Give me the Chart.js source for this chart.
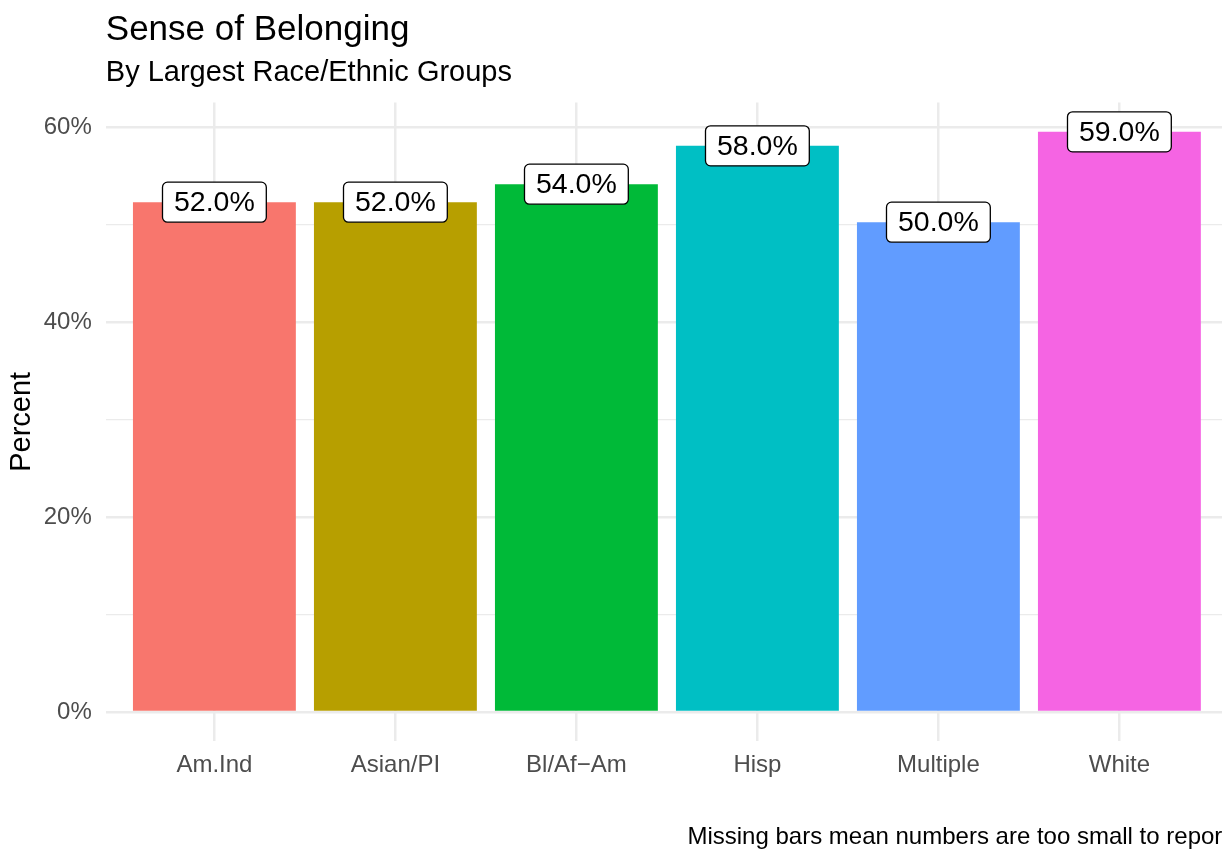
<!DOCTYPE html>
<html>
<head>
<meta charset="utf-8">
<script src="https://cdn.jsdelivr.net/npm/chart.js@4.4.1/dist/chart.umd.min.js"></script>
<style>
  html, body { margin: 0; padding: 0; overflow: hidden; background: #ffffff; width: 1222px; height: 850px; }
  #wrap { width: 1236px; height: 850px; }
</style>
</head>
<body>
<div id="wrap"><canvas id="c" width="1236" height="850"></canvas></div>
<script>
// ---- data ----
const categories = ["Am.Ind", "Asian/PI", "Bl/Af\u2212Am", "Hisp", "Multiple", "White"];
const values = [52.33, 52.33, 54.18, 58.11, 50.28, 59.55];
const valueLabels = ["52.0%", "52.0%", "54.0%", "58.0%", "50.0%", "59.0%"];
const barColors = ["#F8766D", "#B79F00", "#00BA38", "#00BFC4", "#619CFF", "#F564E3"];
const yTicks = [0, 10, 20, 30, 40, 50, 60];
const yTickLabels = { 0: "0%", 20: "20%", 40: "40%", 60: "60%" };

const titleText = "Sense of Belonging";
const subtitleText = "By Largest Race/Ethnic Groups";
const captionText = "Missing bars mean numbers are too small to report";
const yTitle = "Percent";

const FONT = "'Liberation Sans', Arial, Helvetica, sans-serif";
const GRID = "#EBEBEB";

const points = categories.map((c, i) => ({ x: i + 1, y: values[i] }));

const textPlugin = {
  id: "texts",
  afterDraw(chart) {
    const ctx = chart.ctx;
    const area = chart.chartArea;
    ctx.save();
    ctx.fillStyle = "#000000";
    ctx.textAlign = "left";
    ctx.textBaseline = "alphabetic";
    ctx.font = "35px " + FONT;
    ctx.fillText(titleText, area.left, 40);
    ctx.font = "29px " + FONT;
    ctx.fillText(subtitleText, area.left, 81);
    ctx.textAlign = "right";
    ctx.font = "24px " + FONT;
    ctx.fillText(captionText, 1229, 844);
    ctx.restore();
  }
};

const labelPlugin = {
  id: "barLabels",
  afterDatasetsDraw(chart) {
    const ctx = chart.ctx;
    const meta = chart.getDatasetMeta(0);
    ctx.save();
    ctx.font = "28.5px " + FONT;
    meta.data.forEach((el, i) => {
      const txt = valueLabels[i];
      const tw = ctx.measureText(txt).width;
      const w = tw + 23, h = 40;
      const x = el.x - w / 2, y = el.y - h / 2;
      ctx.beginPath();
      ctx.roundRect(x, y, w, h, 5);
      ctx.fillStyle = "#ffffff";
      ctx.fill();
      ctx.lineWidth = 1.3;
      ctx.strokeStyle = "#000000";
      ctx.stroke();
      ctx.fillStyle = "#000000";
      ctx.textAlign = "center";
      ctx.textBaseline = "middle";
      ctx.fillText(txt, el.x, el.y + 1);
    });
    ctx.restore();
  }
};

new Chart(document.getElementById("c"), {
  type: "bar",
  data: {
    datasets: [{
      data: points,
      backgroundColor: barColors,
      borderWidth: 0,
      barPercentage: 0.9,
      categoryPercentage: 1.0
    }]
  },
  options: {
    responsive: false,
    devicePixelRatio: 1,
    animation: false,
    layout: { padding: { top: 102.6, right: 8, bottom: 0, left: 0 } },
    plugins: { legend: { display: false }, tooltip: { enabled: false }, title: { display: false } },
    scales: {
      x: {
        type: "linear",
        offset: false,
        min: 0.4,
        max: 6.6,
        afterBuildTicks(scale) { scale.ticks = categories.map((c, i) => ({ value: i + 1 })); },
        afterFit(scale) { scale.height = 109; },
        ticks: {
          callback: (v) => categories[Math.round(v) - 1],
          color: "#4D4D4D",
          font: { family: FONT, size: 24 },
          padding: 10,
          autoSkip: false,
          maxRotation: 0
        },
        grid: { color: GRID, lineWidth: 2.5, drawTicks: false, offset: false },
        border: { display: false }
      },
      y: {
        min: -2.98,
        max: 62.55,
        afterBuildTicks(scale) { scale.ticks = yTicks.map(v => ({ value: v })); },
        afterFit(scale) { scale.width = 105.8; },
        ticks: {
          callback: (v) => (yTickLabels[v] !== undefined ? yTickLabels[v] : ""),
          color: "#4D4D4D",
          font: { family: FONT, size: 24 },
          padding: 14
        },
        grid: {
          color: GRID,
          lineWidth: (c) => (c.tick && c.tick.value % 20 === 0 ? 2.5 : 1.3),
          drawTicks: false
        },
        border: { display: false },
        title: {
          display: true,
          text: yTitle,
          color: "#000000",
          font: { family: FONT, size: 29 },
          padding: { top: 5, bottom: 0 }
        }
      }
    }
  },
  plugins: [labelPlugin, textPlugin]
});
</script>
</body>
</html>
